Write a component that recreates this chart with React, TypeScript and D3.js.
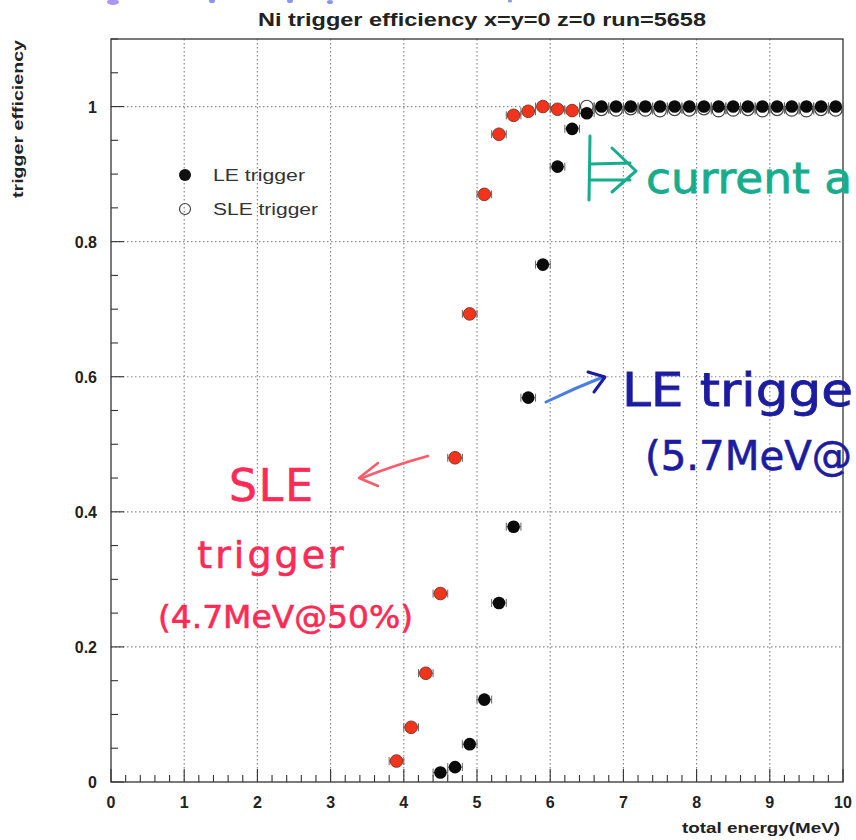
import React from "react";
import * as d3 from "d3";

const title = "Ni trigger efficiency  x=y=0 z=0 run=5658";
const xTitle = "total energy(MeV)";
const yTitle = "trigger efficiency";

// LE trigger (filled black)
const leEnergy = [4.5, 4.7, 4.9, 5.1, 5.3, 5.5, 5.7, 5.9, 6.1, 6.3, 6.5, 6.7, 6.9, 7.1, 7.3, 7.5, 7.7, 7.9, 8.1, 8.3, 8.5, 8.7, 8.9, 9.1, 9.3, 9.5, 9.7, 9.9];
const leEff = [0.014, 0.022, 0.056, 0.122, 0.265, 0.378, 0.569, 0.766, 0.911, 0.967, 0.99, 1.0, 1.0, 1.0, 1.0, 1.0, 1.0, 1.0, 1.0, 1.0, 1.0, 1.0, 1.0, 1.0, 1.0, 1.0, 1.0, 1.0];

// SLE trigger (open circles; highlighted in red by hand up to 6.3 MeV)
const sleEnergy = [3.9, 4.1, 4.3, 4.5, 4.7, 4.9, 5.1, 5.3, 5.5, 5.7, 5.9, 6.1, 6.3, 6.5, 6.7, 6.9, 7.1, 7.3, 7.5, 7.7, 7.9, 8.1, 8.3, 8.5, 8.7, 8.9, 9.1, 9.3, 9.5, 9.7, 9.9];
const sleEff = [0.031, 0.081, 0.161, 0.279, 0.48, 0.693, 0.87, 0.959, 0.987, 0.993, 1.0, 0.996, 0.994, 1.0, 0.996, 0.995, 0.997, 0.995, 0.994, 0.996, 0.995, 0.997, 0.994, 0.995, 0.996, 0.994, 0.996, 0.995, 0.994, 0.996, 0.995];
const sleHighlightMax = 6.3;

const xTicks = [0, 1, 2, 3, 4, 5, 6, 7, 8, 9, 10];
const yTicks = [0, 0.2, 0.4, 0.6, 0.8, 1];
const yTickLabels = ["0", "0.2", "0.4", "0.6", "0.8", "1"];

const L = 111, R = 843, T = 39, B = 782;

export default function App() {
  const x = d3.scaleLinear().domain([0, 10]).range([L, R]);
  const y = d3.scaleLinear().domain([0, 1.1]).range([B, T]);
  const xMinor = d3.range(0, 10.001, 0.2);
  const yMinor = d3.range(0, 1.1001, 0.05);
  const gridColor = "#8a8a8a";
  const r = 6.3;
  const errBar = (cx: number, cy: number, key: string) => {
    const x1 = x(cx - 0.1), x2 = x(cx + 0.1), yy = y(cy);
    return (
      <g key={key} stroke="#666" strokeWidth={1}>
        <line x1={x1} x2={x2} y1={yy} y2={yy} />
        <line x1={x1} x2={x1} y1={yy - 4} y2={yy + 4} />
        <line x1={x2} x2={x2} y1={yy - 4} y2={yy + 4} />
      </g>
    );
  };
  const hand = "'DejaVu Sans', sans-serif";
  return (
    <svg width={856} height={840} style={{ position: "absolute", left: 0, top: 0, background: "#fff" }}
      fontFamily="'Liberation Sans', Arial, sans-serif">
      <rect x={0} y={0} width={856} height={840} fill="#fff" />
      {/* faint marks of handwriting cut at the top edge */}
      <g fill="#5a6ae8" opacity={0.7}>
        <ellipse cx={113} cy={2} rx={6} ry={3} fill="#8a6af0" />
        <ellipse cx={212} cy={1} rx={3} ry={2} />
        <ellipse cx={290} cy={1} rx={3} ry={2} />
        <ellipse cx={330} cy={2} rx={3} ry={2} />
        <ellipse cx={510} cy={1} rx={2} ry={1.5} />
      </g>
      {/* title */}
      <text x={482} y={26} textAnchor="middle" fontSize={18} fontWeight="bold" fill="#222"
        textLength={448} lengthAdjust="spacingAndGlyphs">{title}</text>

      {/* grid */}
      {xTicks.filter(t => t > 0 && t < 10).map(t => (
        <line key={"gx" + t} x1={x(t)} x2={x(t)} y1={T} y2={B} stroke={gridColor} strokeWidth={1.2} strokeDasharray="1.5,2.5" />
      ))}
      {yTicks.filter(t => t > 0).map(t => (
        <line key={"gy" + t} x1={L} x2={R} y1={y(t)} y2={y(t)} stroke={gridColor} strokeWidth={1.2} strokeDasharray="1.5,2.5" />
      ))}

      {/* frame */}
      <rect x={L} y={T} width={R - L} height={B - T} fill="none" stroke="#333" strokeWidth={1.3} />

      {/* x ticks */}
      {xMinor.map((t, i) => {
        const major = Math.abs(t - Math.round(t)) < 1e-6;
        return <line key={"xt" + i} x1={x(t)} x2={x(t)} y1={B} y2={B - (major ? 13 : 7)} stroke="#333" strokeWidth={1.1} />;
      })}
      {xTicks.map(t => (
        <text key={"xl" + t} x={x(t)} y={808} textAnchor="middle" fontSize={16} fontWeight="bold" fill="#222">{t}</text>
      ))}
      {/* y ticks */}
      {yMinor.map((t, i) => {
        const major = Math.abs(t * 5 - Math.round(t * 5)) < 1e-6;
        return <line key={"yt" + i} x1={L} x2={L + (major ? 13 : 7)} y1={y(t)} y2={y(t)} stroke="#333" strokeWidth={1.1} />;
      })}
      {yTicks.map((t, i) => (
        <text key={"yl" + t} x={97} y={y(t) + 6} textAnchor="end" fontSize={16} fontWeight="bold" fill="#222">{yTickLabels[i]}</text>
      ))}

      {/* axis titles */}
      <text transform={`translate(23,40) rotate(-90)`} textAnchor="end" fontSize={14} fontWeight="bold" fill="#222"
        textLength={158} lengthAdjust="spacingAndGlyphs">{yTitle}</text>
      <text x={840} y={833} textAnchor="end" fontSize={14} fontWeight="bold" fill="#222"
        textLength={158} lengthAdjust="spacingAndGlyphs">{xTitle}</text>

      {/* legend */}
      <circle cx={185} cy={175} r={6} fill="#111" />
      <text x={213} y={181} fontSize={16} fill="#333" textLength={92} lengthAdjust="spacingAndGlyphs">LE trigger</text>
      <circle cx={185} cy={209} r={5.5} fill="none" stroke="#444" strokeWidth={1.2} />
      <text x={213} y={215} fontSize={16} fill="#333" textLength={105} lengthAdjust="spacingAndGlyphs">SLE trigger</text>

      {/* SLE open circles (non-highlighted) */}
      {sleEnergy.map((e, i) => e > sleHighlightMax ? (
        <g key={"so" + i}>
          {errBar(e, sleEff[i], "seb" + i)}
          <circle cx={x(e)} cy={y(sleEff[i])} r={r} fill="#fff" stroke="#444" strokeWidth={1.2} />
        </g>
      ) : null)}
      {/* LE filled */}
      {leEnergy.map((e, i) => (
        <g key={"le" + i}>
          {errBar(e, leEff[i], "leb" + i)}
          <circle cx={x(e)} cy={y(leEff[i])} r={r} fill="#0a0a0a" />
        </g>
      ))}
      {/* SLE highlighted in red */}
      {sleEnergy.map((e, i) => e <= sleHighlightMax ? (
        <g key={"sr" + i}>
          {errBar(e, sleEff[i], "srb" + i)}
          <circle cx={x(e)} cy={y(sleEff[i])} r={r} fill="#f2341c" stroke="#8a3a2a" strokeWidth={1} />
        </g>
      ) : null)}

      {/* handwritten annotations */}
      <g fill="none" stroke="#16ad8c" strokeWidth={3} strokeLinecap="round" strokeLinejoin="round">
        <line x1={590} y1={136} x2={589} y2={200} />
        <path d="M591,164 L630,163 M591,180 L630,180 M612,148 L636,171 L612,192" />
      </g>
      <text x={646} y={193} fontFamily={hand} fontSize={42} fill="#16ad8c" stroke="#16ad8c" strokeWidth={0.8}
        textLength={206} lengthAdjust="spacingAndGlyphs">current a</text>

      <g fill="none" stroke="#1c1ca0" strokeWidth={3} strokeLinecap="round" strokeLinejoin="round">
        <path d="M546,402 Q575,388 603,377" stroke="#4a7fe0" />
        <path d="M588,372 L605,377 L594,392" />
      </g>
      <text x={622} y={406} fontFamily={hand} fontSize={46} fill="#1c1ca0" stroke="#1c1ca0" strokeWidth={0.8}
        textLength={231} lengthAdjust="spacingAndGlyphs">LE trigge</text>
      <text x={645} y={470} fontFamily={hand} fontSize={40} fill="#1c1ca0" stroke="#1c1ca0" strokeWidth={0.6}
        textLength={207} lengthAdjust="spacingAndGlyphs">(5.7MeV@</text>

      <g fill="none" stroke="#ff5a6a" strokeWidth={2.5} strokeLinecap="round" strokeLinejoin="round">
        <path d="M428,456 Q395,465 362,478" />
        <path d="M378,463 L359,478 L378,486" />
      </g>
      <text x={272} y={501} textAnchor="middle" fontFamily={hand} fontSize={44} fill="#ff2a55" stroke="#ff2a55" strokeWidth={0.6}
        letterSpacing={2}>SLE</text>
      <text x={272} y={568} textAnchor="middle" fontFamily={hand} fontSize={38} fill="#ff2a55" stroke="#ff2a55" strokeWidth={0.6}
        letterSpacing={3}>trigger</text>
      <text x={158} y={628} fontFamily={hand} fontSize={32} fill="#ff2a55" stroke="#ff2a55" strokeWidth={0.6}
        textLength={255} lengthAdjust="spacingAndGlyphs">(4.7MeV@50%)</text>
    </svg>
  );
}
